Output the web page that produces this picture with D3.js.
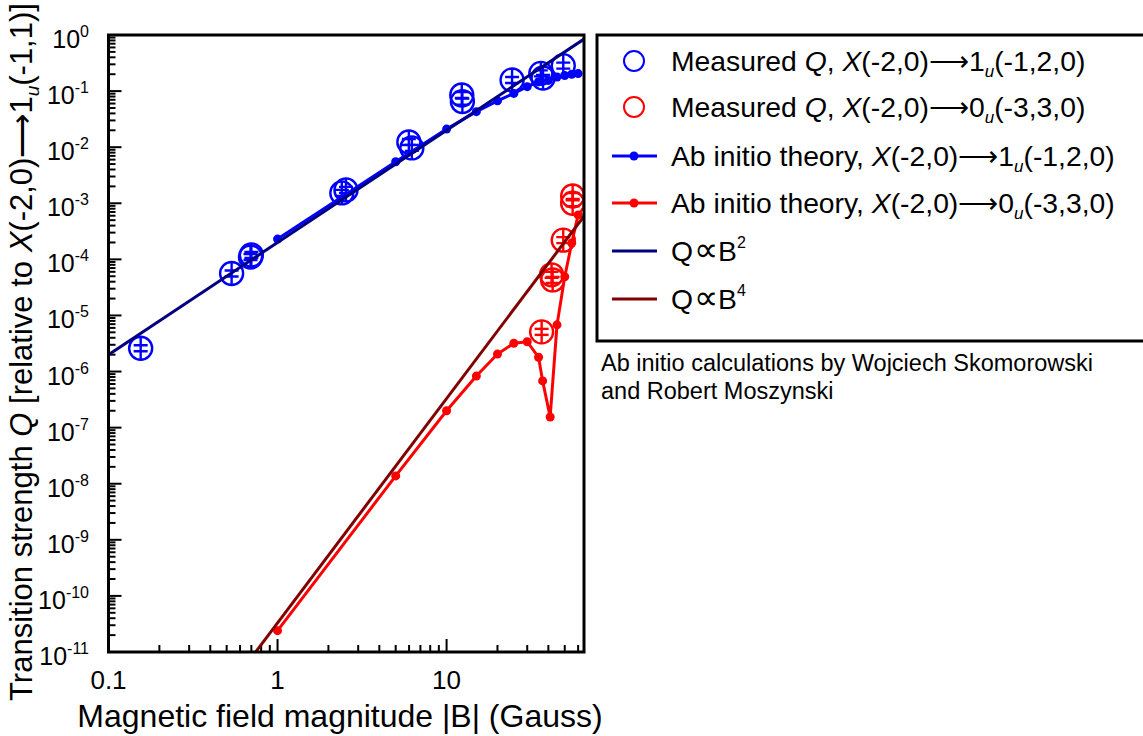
<!DOCTYPE html>
<html><head><meta charset="utf-8">
<script src="https://cdn.jsdelivr.net/npm/d3@7"></script>
<style>
body{margin:0;background:#fff;}
svg{font-family:"Liberation Sans",Arial,sans-serif;}
</style></head>
<body><svg id="c" width="1143" height="736"></svg>
<script>
// ---- data ----
const blueMeasB = [0.155, 0.535, 0.692, 0.70, 2.40, 2.54, 5.98, 6.23, 12.3, 12.4, 24.4, 36.1, 37.2, 49.0];
const blueMeasQ = [2.6e-6, 5.6e-5, 1.1e-4, 1.2e-4, 1.53e-3, 1.73e-3, 1.24e-2, 9.7e-3, 0.085, 0.065, 0.158, 0.207, 0.171, 0.284];
const redMeasB = [36.5, 41.8, 42.4, 49.0, 55.7, 55.7];
const redMeasQ = [5.1e-6, 5.3e-5, 4.3e-5, 2.2e-4, 1.35e-3, 1.0e-3];
const blueTheoryB = [1, 5, 10, 15, 20, 25, 30, 35, 40, 45, 50, 55, 60];
const blueTheoryQ = [2.3e-4, 5.5e-3, 2.1e-2, 4.3e-2, 6.7e-2, 9.1e-2, 0.12, 0.147, 0.155, 0.178, 0.19, 0.2, 0.205];
const redTheoryB = [1, 5, 10, 15, 20, 25, 30, 35, 37, 41, 45, 50, 55, 60];
const redTheoryQ = [2.4e-11, 1.38e-8, 2.0e-7, 8.3e-7, 2.05e-6, 3.2e-6, 3.4e-6, 1.8e-6, 6.8e-7, 1.55e-7, 6.8e-6, 4.9e-5, 1.96e-4, 6.2e-4];
const powerLawExp = [2, 4];
const powerLawCoef = [2.0e-4, 3.3e-11];
const xTickValues = [0.1, 1, 10];
const xTickLabels = ["0.1", "1", "10"];
const yTickExponents = [0, -1, -2, -3, -4, -5, -6, -7, -8, -9, -10, -11];

const svg = d3.select("#c");
const L = 108.5, R = 584, T = 35, B = 652;
const x = d3.scaleLog().domain([0.1, 65]).range([L, R]);
const y = d3.scaleLog().domain([1e-11, 1]).range([B, T]);

svg.append("defs").append("clipPath").attr("id", "clip")
  .append("rect").attr("x", L).attr("y", T).attr("width", R - L).attr("height", B - T);

// ticks (inward)
const tickG = svg.append("g").attr("stroke", "#000").attr("stroke-width", 2);
const xMinor = [];
for (let d = 0.1; d < 100; d *= 10) for (let k = 1; k <= 9; k++) { const v = d * k; if (v <= 65) xMinor.push(v); }
xMinor.forEach(v => {
  const major = xTickValues.some(t => Math.abs(t - v) < 1e-9);
  tickG.append("line").attr("x1", x(v)).attr("x2", x(v)).attr("y1", B).attr("y2", B - (major ? 13 : 7));
});
for (let e = -11; e <= 0; e++) {
  for (let k = 1; k <= 9; k++) {
    const v = k * Math.pow(10, e);
    if (v > 1) break;
    tickG.append("line").attr("x1", L).attr("x2", L + (k === 1 ? 13 : 7)).attr("y1", y(v)).attr("y2", y(v));
  }
}

// tick labels
svg.append("g").selectAll("text").data(xTickValues).join("text")
  .attr("x", d => x(d)).attr("y", 689).attr("text-anchor", "middle")
  .attr("font-size", 26).text((d, i) => xTickLabels[i]);
const yl = svg.append("g").selectAll("text").data(yTickExponents).join("text")
  .attr("x", 89).attr("y", d => y(Math.pow(10, d)) + 13).attr("text-anchor", "end").attr("font-size", 25);
yl.append("tspan").text("10");
yl.append("tspan").attr("dy", -11).attr("font-size", 16).text(d => String(d));

// plotting group
const pg = svg.append("g").attr("clip-path", "url(#clip)");

function measured(Bs, Qs, color) {
  const g = pg.append("g").attr("stroke", color).attr("fill", "none").attr("stroke-width", 2.4);
  Bs.forEach((b, i) => {
    const cx = x(b), cy = y(Qs[i]);
    g.append("circle").attr("cx", cx).attr("cy", cy).attr("r", 11.5);
    g.append("line").attr("x1", cx).attr("x2", cx).attr("y1", cy - 11.5).attr("y2", cy + 11.5);
    g.append("line").attr("x1", cx - 7).attr("x2", cx + 7).attr("y1", cy - 3).attr("y2", cy - 3);
    g.append("line").attr("x1", cx - 7).attr("x2", cx + 7).attr("y1", cy + 3).attr("y2", cy + 3);
  });
}
measured(blueMeasB, blueMeasQ, "#0000ff");
measured(redMeasB, redMeasQ, "#ff0000");

function theory(Bs, Qs, color) {
  const line = d3.line().x((d, i) => x(Bs[i])).y((d, i) => y(Qs[i]));
  pg.append("path").datum(Bs).attr("d", line).attr("fill", "none").attr("stroke", color).attr("stroke-width", 3);
  pg.append("g").selectAll("circle").data(Bs).join("circle")
    .attr("cx", d => x(d)).attr("cy", (d, i) => y(Qs[i])).attr("r", 4.5).attr("fill", color);
}
theory(blueTheoryB, blueTheoryQ, "#0000ff");
theory(redTheoryB, redTheoryQ, "#ff0000");

const powColors = ["#000080", "#800000"];
powerLawExp.forEach((n, i) => {
  const bs = x.domain();
  const line = d3.line().x(d => x(d)).y(d => y(powerLawCoef[i] * Math.pow(d, n)));
  pg.append("path").datum(bs).attr("d", line).attr("fill", "none").attr("stroke", powColors[i]).attr("stroke-width", 3);
});

// frame
svg.append("rect").attr("x", L).attr("y", T).attr("width", R - L).attr("height", B - T)
  .attr("fill", "none").attr("stroke", "#000").attr("stroke-width", 3);

// axis titles
svg.append("text").attr("x", 340).attr("y", 727).attr("text-anchor", "middle").attr("font-size", 32)
  .text("Magnetic field magnitude |B| (Gauss)");
const yt = svg.append("text").attr("transform", "translate(32,352) rotate(-90)").attr("text-anchor", "middle").attr("font-size", 31);
yt.append("tspan").text("Transition strength ");
yt.append("tspan").attr("font-style", "italic").text("Q");
yt.append("tspan").text(" [relative to ");
yt.append("tspan").attr("font-style", "italic").text("X");
yt.append("tspan").text("(-2,0)\u27F61");
yt.append("tspan").attr("font-style", "italic").attr("font-size", 19).attr("dy", 7).text("u");
yt.append("tspan").attr("dy", -7).text("(-1,1)]");

// legend
svg.append("rect").attr("x", 597).attr("y", 35).attr("width", 600).attr("height", 306)
  .attr("fill", "none").attr("stroke", "#000").attr("stroke-width", 3);
const rows = [
  {type: "circle", color: "#0000ff", y: 61, parts: [["Measured ", 0], ["Q", 1], [", ", 0], ["X", 1], ["(-2,0)\u27F61", 0], ["u", 2], ["(-1,2,0)", 3]]},
  {type: "circle", color: "#ff0000", y: 107, parts: [["Measured ", 0], ["Q", 1], [", ", 0], ["X", 1], ["(-2,0)\u27F60", 0], ["u", 2], ["(-3,3,0)", 3]]},
  {type: "dotline", color: "#0000ff", y: 156, parts: [["Ab initio theory, ", 0], ["X", 1], ["(-2,0)\u27F61", 0], ["u", 2], ["(-1,2,0)", 3]]},
  {type: "dotline", color: "#ff0000", y: 203, parts: [["Ab initio theory, ", 0], ["X", 1], ["(-2,0)\u27F60", 0], ["u", 2], ["(-3,3,0)", 3]]},
  {type: "line", color: "#000080", y: 251, parts: [["Q", 0], ["\u221D", 5], ["B", 0], ["2", 4]]},
  {type: "line", color: "#800000", y: 299, parts: [["Q", 0], ["\u221D", 5], ["B", 0], ["4", 4]]}
];
rows.forEach(r => {
  if (r.type === "circle") {
    svg.append("circle").attr("cx", 634).attr("cy", r.y).attr("r", 10).attr("fill", "none").attr("stroke", r.color).attr("stroke-width", 2);
  } else {
    svg.append("line").attr("x1", 612).attr("x2", 657).attr("y1", r.y).attr("y2", r.y).attr("stroke", r.color).attr("stroke-width", 3);
    if (r.type === "dotline") svg.append("circle").attr("cx", 634).attr("cy", r.y).attr("r", 4.5).attr("fill", r.color);
  }
  const t = svg.append("text").attr("x", 671).attr("y", r.y + 10).attr("font-size", 28.3);
  r.parts.forEach(([s, k]) => {
    const ts = t.append("tspan").text(s);
    if (k === 1) ts.attr("font-style", "italic");
    if (k === 2) ts.attr("font-style", "italic").attr("font-size", 17).attr("dy", 6);
    if (k === 3) ts.attr("dy", -6);
    if (k === 4) ts.attr("font-size", 16).attr("dy", -13);
    if (k === 5) ts.attr("font-size", 34).attr("dx", 1);
  });
});

svg.append("text").attr("x", 601).attr("y", 371).attr("font-size", 23.5).text("Ab initio calculations by Wojciech Skomorowski");
svg.append("text").attr("x", 601).attr("y", 399).attr("font-size", 23.5).text("and Robert Moszynski");
</script></body></html>
